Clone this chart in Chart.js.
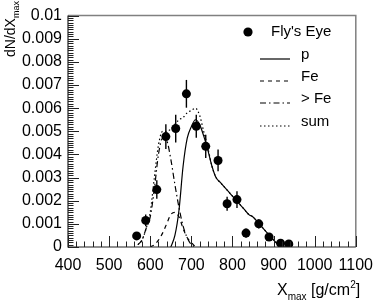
<!DOCTYPE html>
<html>
<head>
<meta charset="utf-8">
<script src="https://cdn.jsdelivr.net/npm/chart.js@4.4.1/dist/chart.umd.min.js"></script>
<style>
html,body{margin:0;padding:0;background:#fff;}
#wrap{width:382px;height:302px;position:relative;}
</style>
</head>
<body>
<div id="wrap"><canvas id="c" width="382" height="302"></canvas></div>
<script>
// ---- data ----
const xTickValues = [400, 500, 600, 700, 800, 900, 1000, 1100];
const xTickLabels = ["400", "500", "600", "700", "800", "900", "1000", "1100"];
const yTickValues = [0, 0.001, 0.002, 0.003, 0.004, 0.005, 0.006, 0.007, 0.008, 0.009, 0.01];
const yTickLabels = ["0", "0.001", "0.002", "0.003", "0.004", "0.005", "0.006", "0.007", "0.008", "0.009", "0.01"];

const eyeX   = [567, 589, 616, 638, 662, 688, 712, 735, 765, 787, 811, 833, 864, 889, 917, 937];
const eyeY   = [0.00048, 0.00115, 0.00248, 0.00477, 0.00512, 0.00662, 0.00522, 0.00435, 0.00374, 0.00187, 0.00205, 0.0006, 0.0010, 0.00043, 0.00016, 0.00013];
const eyeErr = [0.0001, 0.00025, 0.0004, 0.00053, 0.0006, 0.0006, 0.0005, 0.0005, 0.00047, 0.0003, 0.00036, 0.0002, 0.0002, 0.00015, 0.0001, 0.0001];

const pX = [650, 660, 670, 680, 690, 700, 710, 720, 730, 740, 750, 760, 770, 780, 790, 800, 810, 820, 830, 840, 850, 860, 870, 880, 890, 900, 910, 920, 930];
const pY = [0.0, 0.0005, 0.0016, 0.0035, 0.0047, 0.0052, 0.0055, 0.0053, 0.0048, 0.0042, 0.0035, 0.0030, 0.0028, 0.0026, 0.0024, 0.0022, 0.0020, 0.0018, 0.0016, 0.0014, 0.0013, 0.0011, 0.0009, 0.0007, 0.0005, 0.0003, 0.00013, 0.00003, 0.0];

const feX = [600, 610, 620, 630, 640, 650, 660, 670, 680, 690, 700, 710];
const feY = [0.0, 0.0001, 0.0003, 0.0006, 0.0010, 0.0014, 0.0015, 0.0013, 0.0008, 0.0004, 0.0002, 0.0];

const gtFeX = [570, 580, 590, 600, 610, 620, 630, 640, 650, 660, 670, 680, 690, 700, 710];
const gtFeY = [0.0001, 0.0003, 0.0008, 0.0013, 0.0025, 0.0040, 0.0047, 0.0046, 0.0038, 0.0027, 0.0017, 0.0009, 0.0004, 0.0001, 0.0];

const sumX = [570, 580, 590, 600, 610, 620, 630, 640, 650, 660, 670, 680, 690, 700, 710, 720, 730, 740, 750, 760, 770, 780, 790, 800, 810, 820, 830, 840, 850, 860, 870, 880, 890, 900, 910, 920, 930];
const sumY = [0.0001, 0.0003, 0.0008, 0.0015, 0.0030, 0.0044, 0.0050, 0.0050, 0.0051, 0.0053, 0.0055, 0.0056, 0.0058, 0.0059, 0.0060, 0.0057, 0.0050, 0.0043, 0.0035, 0.0030, 0.0028, 0.0026, 0.0024, 0.0022, 0.0020, 0.0018, 0.0016, 0.0014, 0.0013, 0.0011, 0.0009, 0.0007, 0.0005, 0.0003, 0.00013, 0.00003, 0.0];

const legendLabels = ["Fly's Eye", "p", "Fe", "> Fe", "sum"];

// ---- helpers ----
const pts = (xs, ys) => xs.map((x, i) => ({x: x, y: ys[i]}));
const FONT = "'Liberation Sans', Arial, Helvetica, sans-serif";
const DASH_FE = [4, 4];
const DASH_GTFE = [6, 3, 1.5, 3];
const DASH_SUM = [1.5, 2.5];

const lineDs = (label, xs, ys, dash) => ({
  label: label, data: pts(xs, ys), showLine: true, borderColor: '#000', borderWidth: 1.2,
  borderDash: dash, pointRadius: 0, fill: false, cubicInterpolationMode: 'monotone', order: 2
});

const decorPlugin = {
  id: 'decor',
  beforeDatasetsDraw(chart) {
    const ctx = chart.ctx, xs = chart.scales.x, ys = chart.scales.y;
    ctx.save();
    ctx.strokeStyle = '#000'; ctx.lineWidth = 1.4;
    eyeX.forEach((x, i) => {
      const px = xs.getPixelForValue(x);
      ctx.beginPath();
      ctx.moveTo(px, ys.getPixelForValue(eyeY[i] - eyeErr[i]));
      ctx.lineTo(px, ys.getPixelForValue(eyeY[i] + eyeErr[i]));
      ctx.stroke();
    });
    ctx.restore();
  },
  afterDraw(chart) {
    const ctx = chart.ctx, xs = chart.scales.x, ys = chart.scales.y, a = chart.chartArea;
    ctx.save();
    ctx.strokeStyle = '#808080'; ctx.lineWidth = 1.5;
    ctx.beginPath();
    ctx.moveTo(a.left, a.top); ctx.lineTo(a.right, a.top); ctx.lineTo(a.right, a.bottom);
    ctx.stroke();
    ctx.strokeStyle = '#222'; ctx.lineWidth = 1.2;
    ctx.beginPath();
    ctx.moveTo(a.left, a.top); ctx.lineTo(a.left, a.bottom); ctx.lineTo(a.right, a.bottom);
    ctx.stroke();
    ctx.lineWidth = 1;
    ctx.beginPath();
    for (let v = xs.min; v <= xs.max + 1e-9; v += 20) {
      const px = Math.round(xs.getPixelForValue(v)) + 0.5;
      const major = Math.abs(v % 100) < 1e-6;
      const len = major ? 11 : 5.5;
      ctx.moveTo(px, a.bottom); ctx.lineTo(px, a.bottom - len);
    }
    for (let k = 0; k <= 100; k++) {
      const v = k * 0.0001;
      const py = Math.round(ys.getPixelForValue(v)) + 0.5;
      const len = (k % 10 === 0) ? 11 : 5.5;
      ctx.moveTo(a.left, py); ctx.lineTo(a.left + len, py);
    }
    ctx.stroke();

    // legend
    ctx.fillStyle = '#000'; ctx.strokeStyle = '#000';
    ctx.font = '15px ' + FONT; ctx.textBaseline = 'middle'; ctx.textAlign = 'left';
    ctx.beginPath(); ctx.arc(248, 32, 4.6, 0, Math.PI * 2); ctx.fill();
    ctx.fillText(legendLabels[0], 271, 32);
    const rows = [[55, [], legendLabels[1]], [77, DASH_FE, legendLabels[2]], [99, DASH_GTFE, legendLabels[3]], [122, DASH_SUM, legendLabels[4]]];
    rows.forEach(r => {
      ctx.lineWidth = 1.2; ctx.setLineDash(r[1]);
      ctx.beginPath(); ctx.moveTo(260, r[0] + 4); ctx.lineTo(290, r[0] + 4); ctx.stroke();
      ctx.setLineDash([]);
      ctx.fillText(r[2], 301, r[0]);
    });

    // x title
    ctx.textBaseline = 'alphabetic';
    let x = 277;
    ctx.font = '16px ' + FONT; ctx.fillText('X', x, 295); x += ctx.measureText('X').width;
    ctx.font = '10px ' + FONT; ctx.fillText('max', x, 300); x += ctx.measureText('max').width;
    ctx.font = '16px ' + FONT; ctx.fillText(' [g/cm', x, 295); x += ctx.measureText(' [g/cm').width;
    ctx.font = '10px ' + FONT; ctx.fillText('2', x, 288); x += ctx.measureText('2').width;
    ctx.font = '16px ' + FONT; ctx.fillText(']', x, 295);

    // y title (rotated)
    ctx.translate(15, 57); ctx.rotate(-Math.PI / 2);
    let t = 0;
    ctx.font = '14px ' + FONT; ctx.fillText('dN/dX', t, 0); t += ctx.measureText('dN/dX').width;
    ctx.font = '9px ' + FONT; ctx.fillText('max', t, 4);
    ctx.restore();
  }
};

new Chart(document.getElementById('c'), {
  type: 'scatter',
  data: {
    datasets: [
      { label: legendLabels[0], data: pts(eyeX, eyeY), showLine: false, pointRadius: 4.5, pointHoverRadius: 4.5,
        backgroundColor: '#000', borderColor: '#000', pointBorderWidth: 0, order: 1 },
      lineDs(legendLabels[1], pX, pY, []),
      lineDs(legendLabels[2], feX, feY, DASH_FE),
      lineDs(legendLabels[3], gtFeX, gtFeY, DASH_GTFE),
      lineDs(legendLabels[4], sumX, sumY, DASH_SUM)
    ]
  },
  options: {
    responsive: false, animation: false, devicePixelRatio: 1,
    layout: { padding: { left: 0, right: 19, top: 10, bottom: 0 } },
    plugins: { legend: { display: false }, tooltip: { enabled: false } },
    scales: {
      x: {
        type: 'linear', min: 400, max: 1100,
        afterBuildTicks: s => { s.ticks = xTickValues.map(v => ({ value: v })); },
        afterFit: s => { s.height = 55; },
        grid: { display: false, drawTicks: false }, border: { display: false },
        ticks: { autoSkip: false, maxRotation: 0, padding: 9, color: '#000',
          font: { family: FONT, size: 16 },
          callback: (v) => xTickLabels[xTickValues.indexOf(v)] }
      },
      y: {
        type: 'linear', min: 0, max: 0.01,
        afterBuildTicks: s => { s.ticks = yTickValues.map(v => ({ value: v })); },
        afterFit: s => { s.width = 68; },
        grid: { display: false, drawTicks: false }, border: { display: false },
        ticks: { autoSkip: false, padding: 6, color: '#000',
          font: { family: FONT, size: 16 },
          callback: (v, i) => yTickLabels[i] }
      }
    }
  },
  plugins: [decorPlugin]
});
</script>
</body>
</html>
